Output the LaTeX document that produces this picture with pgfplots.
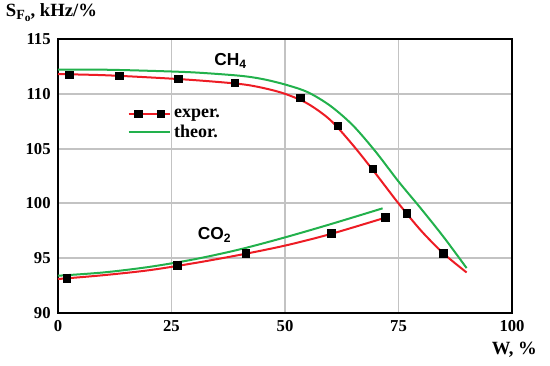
\documentclass[border=0pt]{standalone}
\usepackage{fontspec}
\setmainfont{Liberation Serif}
\newfontfamily\arial{Liberation Sans}
\usepackage{pgfplots}
\pgfplotsset{compat=1.18}
\definecolor{myred}{RGB}{237,28,36}
\definecolor{mygreen}{RGB}{34,177,76}
\definecolor{mygrid}{RGB}{195,195,195}
\begin{document}
\begin{tikzpicture}
\path[use as bounding box] (-43.5pt,-39pt) rectangle (369pt,234.75pt);
\begin{axis}[
  at={(0,0)}, anchor=south west,
  scale only axis, width=340.5pt, height=205.5pt,
  xmin=0, xmax=100, ymin=90, ymax=115,
  xtick={0,25,50,75,100}, ytick={90,95,100,105,110,115},
  xmajorgrids, ymajorgrids,
  major grid style={draw=mygrid, line width=1.4pt},
  axis line style={black, line width=1.5pt},
  major tick length=0pt,
  /pgf/number format/assume math mode=true,
  ticklabel style={font=\bfseries\fontsize{12.5}{14}\selectfont},
  xticklabel style={yshift=-2pt},
  yticklabel style={xshift=-2pt},
  legend style={draw=none, fill=none, at={(rel axis cs:0.15,0.76)}, anchor=north west,
    font=\bfseries\fontsize{13.5}{15}\selectfont, row sep=0pt, inner sep=1pt,
    cells={anchor=west}},
  clip=false,
]
% CH4 experimental curve
\addplot[myred, line width=1.5pt, smooth, tension=0.5,
  legend image code/.code={
    \draw[myred, line width=1.5pt] (0cm,0cm) -- (1.1cm,0cm);
    \fill[black] (0.26cm-2.4pt,-2.4pt) rectangle (0.26cm+2.4pt,2.4pt);
    \fill[black] (0.85cm-2.4pt,-2.4pt) rectangle (0.85cm+2.4pt,2.4pt);}]
coordinates {(0,111.8) (10,111.7) (20,111.5) (30,111.25) (40,110.9) (45,110.55) (50,110.0) (55,109.1) (60,107.6) (65,105.3) (70,102.7) (75,100.0) (80,97.5) (85,95.4) (90,93.7)};
\addlegendentry{exper.}
% CH4 theoretical
\addplot[mygreen, line width=1.5pt, smooth, tension=0.5,
  legend image code/.code={\draw[mygreen, line width=1.5pt] (0cm,0cm) -- (1.1cm,0cm);}]
coordinates {(0,112.2) (10,112.2) (20,112.1) (30,111.95) (40,111.65) (45,111.35) (50,110.85) (55,110.15) (60,108.9) (65,107.1) (70,104.7) (75,102.0) (80,99.5) (85,96.9) (90,94.1)};
\addlegendentry{theor.}
% CO2 experimental
\addplot[myred, line width=1.5pt, smooth, tension=0.5, forget plot]
coordinates {(0,93.1) (10,93.45) (20,93.9) (30,94.55) (40,95.3) (50,96.15) (60,97.2) (72.1,98.7)};
% CO2 theoretical
\addplot[mygreen, line width=1.5pt, smooth, tension=0.5, forget plot]
coordinates {(0,93.4) (10,93.7) (20,94.2) (30,94.9) (40,95.8) (50,96.9) (60,98.1) (71.5,99.55)};
% markers
\addplot[only marks, mark=square*, mark size=2.8pt, black, forget plot]
coordinates {(2.5,111.73) (13.5,111.64) (26.5,111.36) (38.9,111.0) (53.4,109.64) (61.6,107.09) (69.3,103.18) (76.8,99.09) (84.9,95.45)};
\addplot[only marks, mark=square*, mark size=2.8pt, black, forget plot]
coordinates {(1.9,93.18) (26.3,94.36) (41.3,95.45) (60.2,97.27) (72.1,98.73)};
\node[font=\arial\bfseries\fontsize{13}{15}\selectfont] at (axis cs:38,113.0) {CH\textsubscript{4}};
\node[font=\arial\bfseries\fontsize{13}{15}\selectfont] at (axis cs:34.5,97.1) {CO\textsubscript{2}};
\node[font=\bfseries\fontsize{14}{16}\selectfont, anchor=west] at (rel axis cs:-0.125,1.095) {S\raisebox{-0.35ex}{\fontsize{10.5}{11}\selectfont F\raisebox{-0.3ex}{\fontsize{8.5}{9}\selectfont o}}, kHz/\%};
\node[font=\bfseries\fontsize{14}{16}\selectfont, anchor=east] at (rel axis cs:1.065,-0.135) {W, \%};
\end{axis}
\end{tikzpicture}
\end{document}
